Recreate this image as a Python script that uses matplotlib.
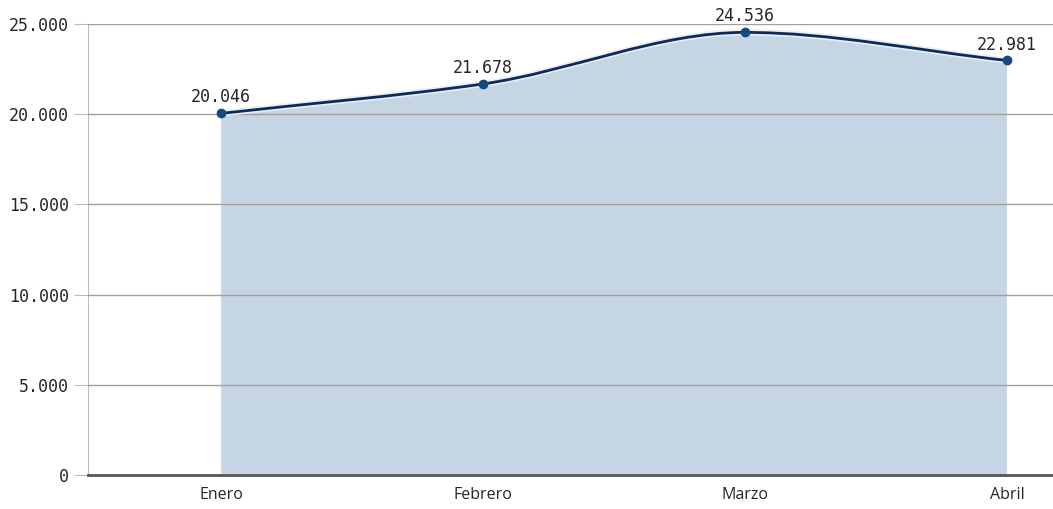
import matplotlib.pyplot as plt
from matplotlib.path import Path
from matplotlib.patches import PathPatch
import numpy as np

# data
meses = ['Enero', 'Febrero', 'Marzo', 'Abril']
ventas = [20046, 21678, 24536, 22981]
yticks = [0, 5000, 10000, 15000, 20000, 25000]


def fmt(v):
    return f'{v:,.0f}'.replace(',', '.')


def monotone_slopes(x, y):
    # Fritsch-Carlson tangents, same kind of smoothing the original tool uses
    x = np.asarray(x, float)
    y = np.asarray(y, float)
    h = np.diff(x)
    d = np.diff(y) / h
    m = np.zeros_like(y)
    m[0], m[-1] = d[0], d[-1]
    for k in range(1, len(y) - 1):
        if d[k - 1] * d[k] <= 0:
            m[k] = 0
        else:
            m[k] = 2 / (1 / d[k - 1] + 1 / d[k])
    return m


xs = np.arange(len(meses))
m = monotone_slopes(xs, ventas)

verts = [(xs[0], ventas[0])]
codes = [Path.MOVETO]
for k in range(len(xs) - 1):
    h = xs[k + 1] - xs[k]
    verts += [(xs[k] + h / 3, ventas[k] + m[k] * h / 3),
              (xs[k + 1] - h / 3, ventas[k + 1] - m[k + 1] * h / 3),
              (xs[k + 1], ventas[k + 1])]
    codes += [Path.CURVE4] * 3

line_path = Path(verts, codes)
fill_path = Path(verts + [(xs[-1], 0), (xs[0], 0), (xs[0], ventas[0])],
                 codes + [Path.LINETO, Path.LINETO, Path.CLOSEPOLY])

fig = plt.figure(figsize=(10.53, 5.09), dpi=100)
ax = fig.add_axes([0.0836, 0.0668, 0.9164, 0.886])

for t in yticks[1:]:
    ax.axhline(t, color='#a0a0a0', lw=1, zorder=3)

ax.add_patch(PathPatch(fill_path, facecolor='#c6d5e4', edgecolor='none', zorder=1))
ax.add_patch(PathPatch(line_path, facecolor='none', edgecolor='#e6eef6', lw=4.5, zorder=4))
ax.add_patch(PathPatch(line_path, facecolor='none', edgecolor='#0e2a5c', lw=2, zorder=5))
ax.plot(xs, ventas, 'o', color='#164a7e', ms=6, zorder=6)

for x, v in zip(xs, ventas):
    ax.annotate(fmt(v), (x, v), xytext=(0, 5), textcoords='offset points',
                ha='center', va='bottom', fontsize=12, color='#262626',
                family='DejaVu Sans Mono')

ax.set_xlim(-0.508, 3.176)
ax.set_ylim(0, 25000)
ax.set_yticks(yticks)
ax.set_yticklabels([fmt(t) for t in yticks], family='DejaVu Sans Mono', fontsize=12, color='#262626')
ax.set_xticks(xs)
ax.set_xticklabels(meses, fontsize=11.5, color='#262626', family='Open Sans')
ax.tick_params(axis='x', length=0, pad=9)
ax.tick_params(axis='y', length=10, color='#bbbbbb', pad=4)

for s in ['top', 'right']:
    ax.spines[s].set_visible(False)
ax.spines['left'].set_color('#bbbbbb')
ax.spines['bottom'].set_color('#555555')
ax.spines['bottom'].set_linewidth(2)
ax.spines['bottom'].set_zorder(7)

fig.savefig('out.png', dpi=100)
